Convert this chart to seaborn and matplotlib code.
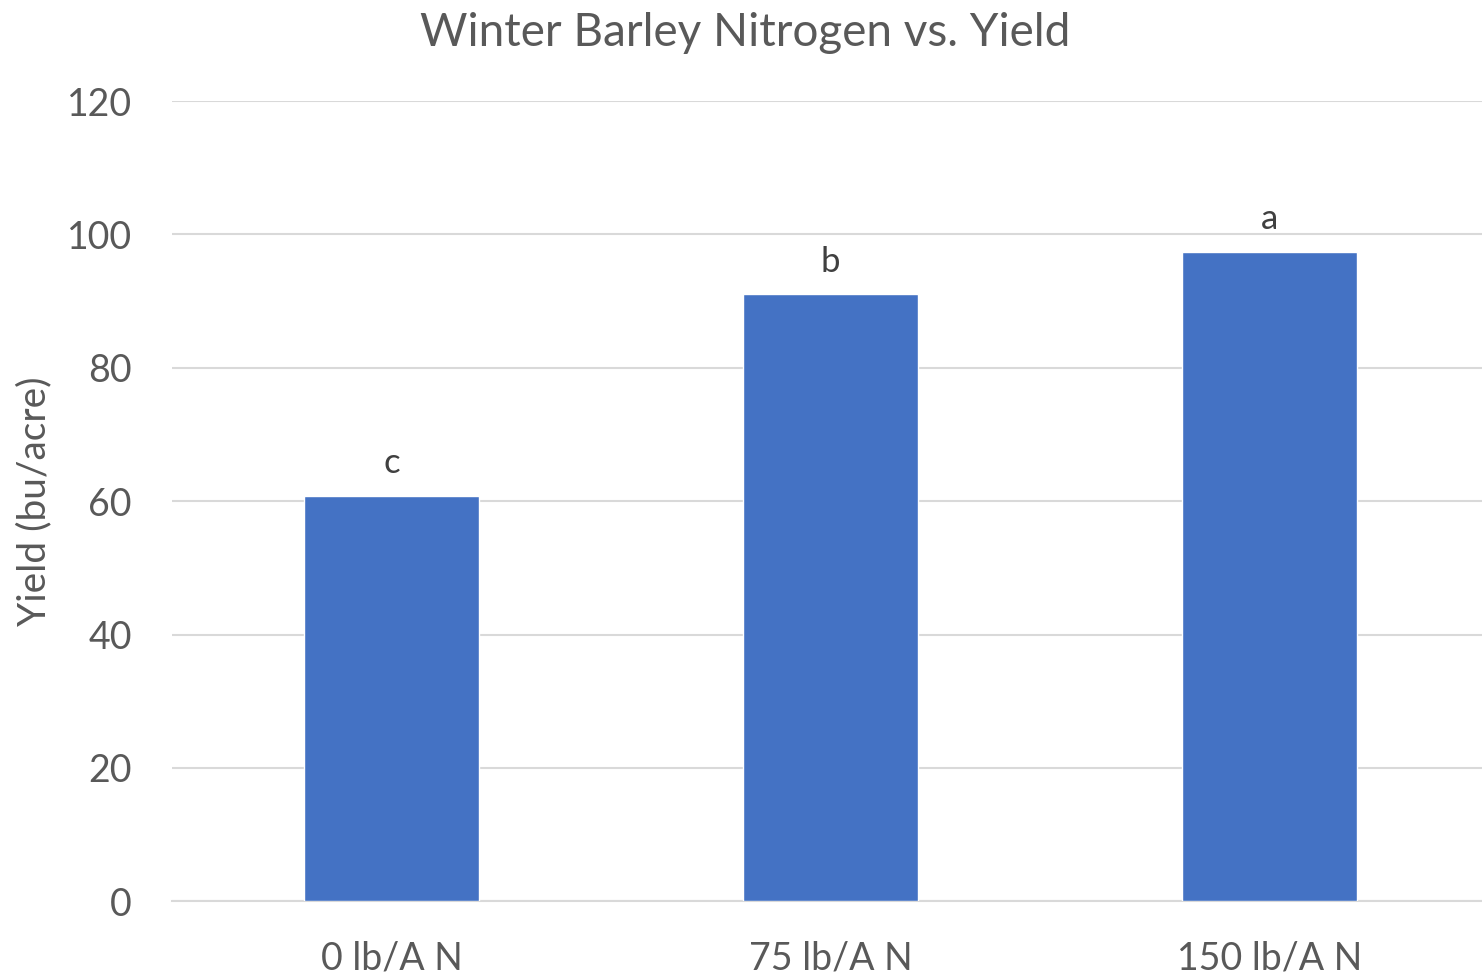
import matplotlib
matplotlib.use('Agg')
import matplotlib.pyplot as plt
import seaborn as sns
import pandas as pd

# values
rates = ['0 lb/A N', '75 lb/A N', '150 lb/A N']
yields = [60.8, 91.0, 97.4]
letters = ['c', 'b', 'a']

df = pd.DataFrame({'rate': rates, 'yield': yields})

sns.set_theme(style='white')
plt.rcParams['font.family'] = ['Lato', 'DejaVu Sans']
text_grey = '#595959'

fig = plt.figure(figsize=(14.82, 9.76), dpi=100)
ax = fig.add_axes([0.116, 0.0765, 0.8887, 0.82])

sns.barplot(data=df, x='rate', y='yield', color='#4472C4', width=0.4,
            saturation=1, ax=ax, zorder=3)

ax.bar_label(ax.containers[0], labels=letters, padding=12,
             fontsize=25, color='#404040')

ax.set_ylim(0, 120)
ax.set_xlim(-0.5, 2.5)
ax.set_yticks(range(0, 121, 20))
ax.yaxis.grid(True, color='#d9d9d9', linewidth=1.5, zorder=0)
ax.xaxis.grid(False)
for s in ['top', 'right', 'left']:
    ax.spines[s].set_visible(False)
ax.spines['bottom'].set_color('#d9d9d9')
ax.spines['bottom'].set_linewidth(1.5)
ax.tick_params(axis='both', length=0, labelsize=27, labelcolor=text_grey)
ax.tick_params(axis='y', pad=29)
ax.tick_params(axis='x', pad=28)

ax.set_xlabel('')
ax.set_ylabel('Yield (bu/acre)', fontsize=28, color=text_grey, labelpad=10)
fig.suptitle('Winter Barley Nitrogen vs. Yield', fontsize=33, color=text_grey,
             x=0.503, y=0.988, va='top')

fig.savefig('out.png', dpi=100)
